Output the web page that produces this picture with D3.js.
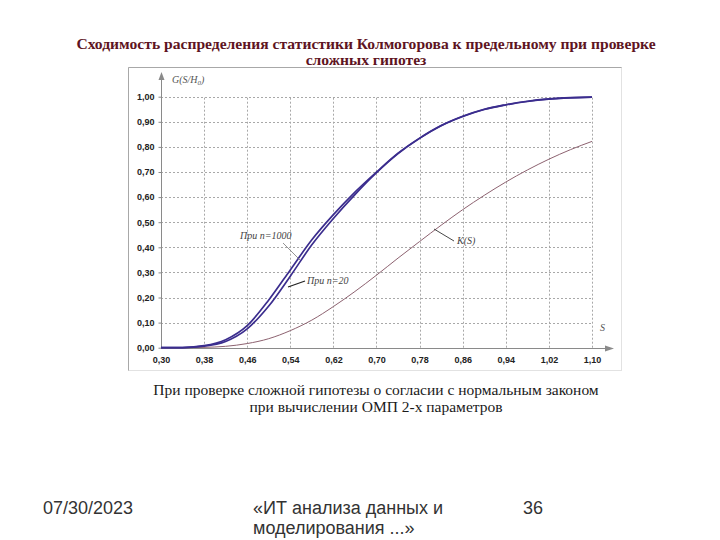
<!DOCTYPE html>
<html><head><meta charset="utf-8">
<script src="https://cdn.jsdelivr.net/npm/d3@7"></script>
<style>
html,body{margin:0;padding:0;background:#fff;}
svg{display:block;}
</style></head>
<body>
<svg id="c" width="720" height="540"></svg>
<script>
// ---- data ----
const sValues = [0.30,0.34,0.38,0.42,0.46,0.50,0.54,0.58,0.62,0.66,0.70,0.74,0.78,0.82,0.86,0.90,0.94,0.98,1.02,1.06,1.10];
const gN1000 = [0,0.0006,0.008,0.032,0.088,0.19,0.31,0.43,0.53,0.62,0.70,0.775,0.835,0.885,0.922,0.95,0.968,0.982,0.991,0.996,0.998];
const gN20   = [0,0.0004,0.006,0.025,0.075,0.166,0.285,0.41,0.515,0.61,0.697,0.773,0.834,0.884,0.921,0.949,0.967,0.981,0.990,0.995,0.998];
const kS     = [0,0.0002,0.0014,0.0055,0.0165,0.036,0.068,0.11,0.164,0.224,0.289,0.357,0.423,0.488,0.550,0.607,0.660,0.708,0.751,0.789,0.822];
const xTicks = [0.30,0.38,0.46,0.54,0.62,0.70,0.78,0.86,0.94,1.02,1.10];
const yTicks = [0,0.1,0.2,0.3,0.4,0.5,0.6,0.7,0.8,0.9,1.0];
const titleLines = ["Сходимость распределения статистики Колмогорова к предельному при проверке","сложных гипотез"];
const captionLines = ["При проверке сложной гипотезы о согласии с нормальным законом","при вычислении ОМП 2-х параметров"];
const footerDate = "07/30/2023";
const footerTitle = ["«ИТ анализа данных и","моделирования ...»"];
const footerPage = "36";

const svg = d3.select("#c");
const fmt = v => v.toFixed(2).replace(".", ",");

// title
svg.append("g").selectAll("text").data(titleLines).join("text")
  .attr("x", 366).attr("y", (d,i)=>49+i*16)
  .attr("text-anchor","middle")
  .attr("font-family","'Liberation Serif','Times New Roman',serif")
  .attr("font-weight","bold").attr("font-size",15.6)
  .attr("fill","#5e1422").text(d=>d);

// frame of embedded picture
svg.append("rect").attr("x",128.5).attr("y",67.5).attr("width",493).attr("height",303)
  .attr("fill","none").attr("stroke","#e2e2e2");
svg.append("path").attr("d","M128.5,370.5V67.5H621.5").attr("fill","none").attr("stroke","#a8a8a8");

const x = d3.scaleLinear().domain([0.30,1.10]).range([161,592]);
const y = d3.scaleLinear().domain([0,1]).range([347.7,96.7]);

// grid
const grid = svg.append("g").attr("stroke","#a8a8a8").attr("stroke-dasharray","2,2").attr("stroke-width",1);
grid.selectAll(".h").data(yTicks.slice(1)).join("line")
  .attr("x1",x(0.30)).attr("x2",x(1.10))
  .attr("y1",d=>Math.round(y(d))+0.5).attr("y2",d=>Math.round(y(d))+0.5);
grid.selectAll(".v").data(xTicks.slice(1)).join("line")
  .attr("x1",d=>Math.round(x(d))+0.5).attr("x2",d=>Math.round(x(d))+0.5)
  .attr("y1",y(0)).attr("y2",y(1));

// axes
const yAxis = d3.axisLeft(y).tickValues(yTicks).tickFormat(fmt).tickSize(3).tickPadding(4);
const xAxis = d3.axisBottom(x).tickValues(xTicks).tickFormat(fmt).tickSize(0).tickPadding(8);
const gy = svg.append("g").attr("transform",`translate(${x(0.30)+0.5},0)`).call(yAxis);
const gx = svg.append("g").attr("transform",`translate(0,${Math.round(y(0))+0.5})`).call(xAxis);
[gy,gx].forEach(g=>{
  g.select(".domain").remove();
  g.selectAll("line").attr("stroke","#888");
  g.selectAll("text").attr("font-family","'Liberation Sans',Arial,sans-serif")
   .attr("font-weight","bold").attr("font-size",9).attr("fill","#222");
});
// axis lines with arrows
const axc = "#8a8a8a";
svg.append("line").attr("x1",161.5).attr("x2",161.5).attr("y1",y(0)).attr("y2",76).attr("stroke",axc);
svg.append("path").attr("d","M161.5,72 L158.5,80 L164.5,80 Z").attr("fill",axc);
svg.append("line").attr("x1",161).attr("x2",609).attr("y1",Math.round(y(0))+0.5).attr("y2",Math.round(y(0))+0.5).attr("stroke",axc);
svg.append("path").attr("d",`M614,${Math.round(y(0))+0.5} L605,${Math.round(y(0))-2.5} L605,${Math.round(y(0))+3.5} Z`).attr("fill",axc);

// axis labels
const axLab = svg.append("g").attr("font-family","'Liberation Serif','Times New Roman',serif")
  .attr("font-style","italic").attr("fill","#555");
const gl = axLab.append("text").attr("x",172).attr("y",83).attr("font-size",10);
gl.append("tspan").text("G(S/H");
gl.append("tspan").attr("font-size",7).attr("dy",2).text("0");
gl.append("tspan").attr("dy",-2).text(")");
axLab.append("text").attr("x",600).attr("y",331).attr("font-size",10).text("S");

// curves
const line = d3.line().x((d,i)=>x(sValues[i])).y(d=>y(d)).curve(d3.curveMonotoneX);
svg.append("path").datum(kS).attr("d",line).attr("fill","none").attr("stroke","#8d6270").attr("stroke-width",1);
svg.append("path").datum(gN20).attr("d",line).attr("fill","none").attr("stroke","#3b2d8e").attr("stroke-width",1.7);
svg.append("path").datum(gN1000).attr("d",line).attr("fill","none").attr("stroke","#3b2d8e").attr("stroke-width",1.7);

// annotations
const ann = svg.append("g").attr("font-family","'Liberation Serif','Times New Roman',serif")
  .attr("font-style","italic").attr("font-size",10).attr("fill","#444");
ann.append("text").attr("x",240).attr("y",239).text("При n=1000");
ann.append("line").attr("x1",283).attr("y1",243).attr("x2",300).attr("y2",260).attr("stroke","#777").attr("stroke-width",0.8);
ann.append("text").attr("x",307).attr("y",284).text("При n=20");
ann.append("line").attr("x1",305).attr("y1",281).attr("x2",288).attr("y2",287).attr("stroke","#222").attr("stroke-width",1.3);
ann.append("text").attr("x",457).attr("y",244).text("K(S)");
ann.append("line").attr("x1",434).attr("y1",229).attr("x2",454).attr("y2",241).attr("stroke","#333").attr("stroke-width",0.9);

// caption
svg.append("g").selectAll("text").data(captionLines).join("text")
  .attr("x",376).attr("y",(d,i)=>395+i*17)
  .attr("text-anchor","middle")
  .attr("font-family","'Liberation Serif','Times New Roman',serif")
  .attr("font-size",15.5).attr("fill","#1a1a1a").text(d=>d);

// footer
const foot = svg.append("g").attr("font-family","'Liberation Sans',Arial,sans-serif").attr("font-size",18).attr("fill","#333");
foot.append("text").attr("x",43).attr("y",514).text(footerDate);
foot.selectAll(".ft").data(footerTitle).join("text").attr("x",253).attr("y",(d,i)=>514+i*20).text(d=>d);
foot.append("text").attr("x",523).attr("y",514).text(footerPage);
</script>
</body></html>
